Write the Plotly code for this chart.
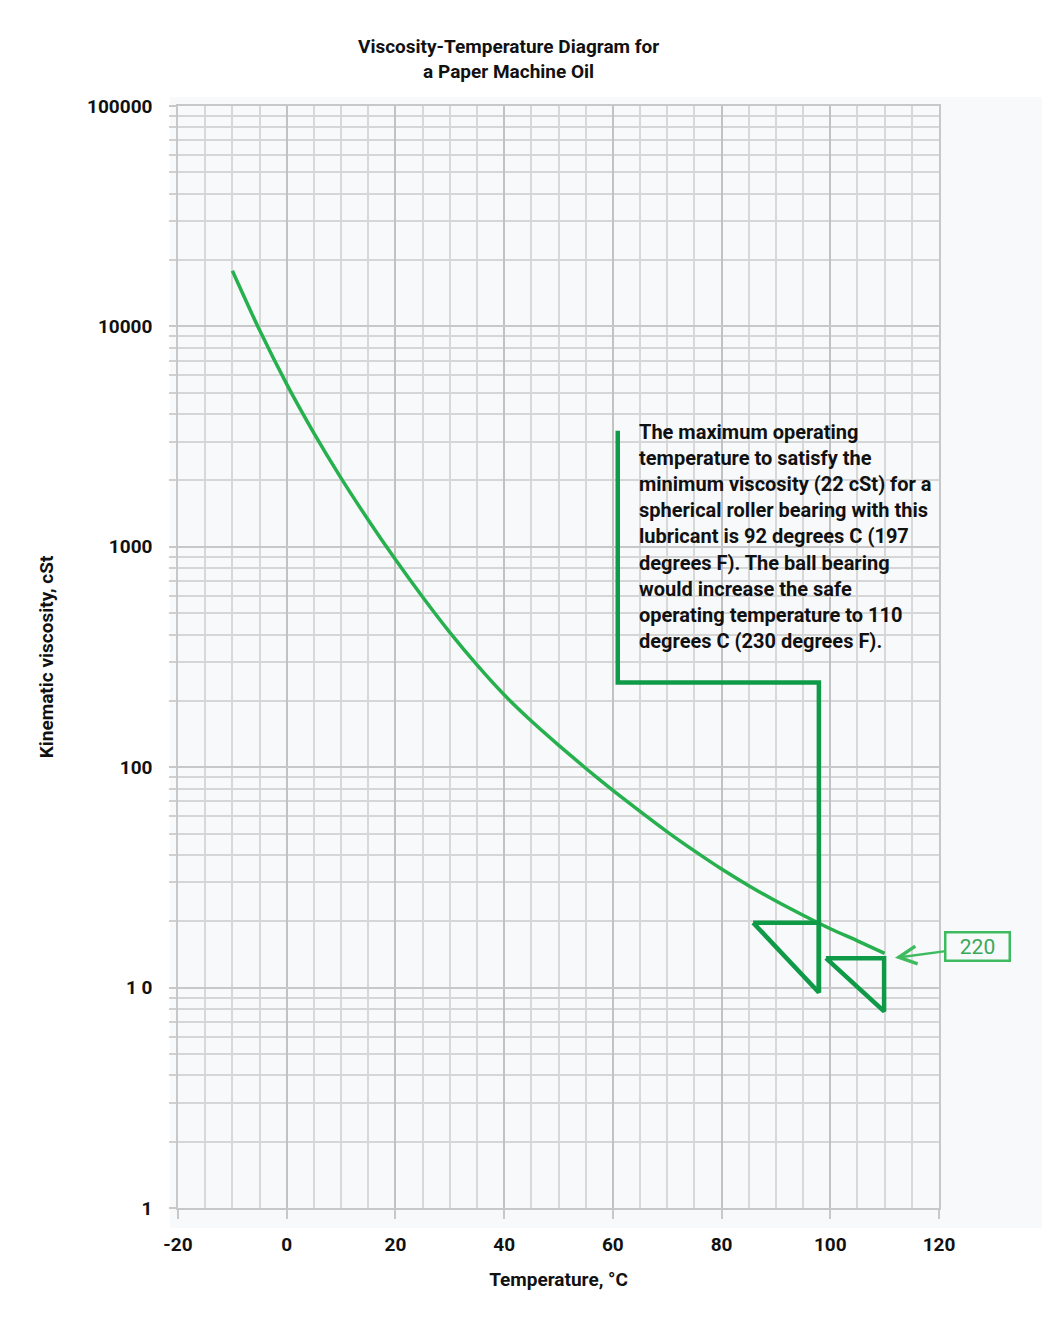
#!/usr/bin/env python3
"""Viscosity-temperature diagram for a paper machine oil (log viscosity vs temperature)."""

import plotly.graph_objects as go

# Oil curve
temps_c = [-10, -5, 0, 5, 10, 15, 20, 25, 30, 35, 40, 45, 50, 55, 60, 65, 70, 75,
           80, 85, 90, 95, 100, 105, 110]
visc_cst = [17900, 9620, 5470, 3280, 2050, 1324, 875, 592, 409, 291, 213, 162, 126, 98.9,
            78.5, 63.0, 50.9, 41.7, 34.5, 29.0, 24.7, 21.3, 18.5, 16.3, 14.3]

# Bracket from the note down to the 98 C crossing
bracket_x = [60.9, 60.9, 97.9, 97.9]
bracket_y = [3365, 242, 242, 9.5]

# Triangle markers
tri1_x = [85.8, 97.9, 97.9, 85.8]
tri1_y = [19.7, 19.7, 9.5, 19.7]
tri2_x = [99.2, 109.9, 109.9, 99.2]
tri2_y = [13.6, 13.6, 7.8, 13.6]

x_tickvals = [-20, 0, 20, 40, 60, 80, 100, 120]
x_ticktext = ['-20', '0', '20', '40', '60', '80', '100', '120']
y_tickvals = [1, 10, 100, 1000, 10000, 100000]
y_ticktext = ['1', '1 0', '100', '1000', '10000', '100000']

note_lines = [
    'The maximum operating',
    'temperature to satisfy the',
    'minimum viscosity (22 cSt) for a',
    'spherical roller bearing with this',
    'lubricant is 92 degrees C (197',
    'degrees F). The ball bearing',
    'would increase the safe',
    'operating temperature to 110',
    'degrees C (230 degrees F).',
]

FONT = 'Roboto, Liberation Sans, sans-serif'
OFF = 8  # page body margin
W, H = 1050 - OFF, 1322 - OFF
L, R, T, B = 178 - OFF, 111, 106 - OFF, 114
CURVE_GREEN = '#27b04e'
DARK_GREEN = '#0f9a48'


def px(x, y):
    """Page pixel position -> paper coordinates."""
    x, y = x - OFF, y - OFF
    return (x - L) / (W - L - R), (H - B - y) / (H - T - B)


fig = go.Figure()

fig.add_trace(go.Scatter(
    x=temps_c, y=visc_cst, mode='lines',
    line=dict(color=CURVE_GREEN, width=3.5, shape='spline', smoothing=0.6),
    hoverinfo='x+y'
))

for xs, ys in [(bracket_x, bracket_y), (tri1_x, tri1_y), (tri2_x, tri2_y)]:
    fig.add_trace(go.Scatter(
        x=xs, y=ys, mode='lines',
        line=dict(color=DARK_GREEN, width=4.5),
        hoverinfo='skip'
    ))

# light panel behind the plot
x0, y0 = px(170, 1228)
x1, y1 = px(1048, 97)
fig.add_shape(type='rect', xref='paper', yref='paper', x0=x0, y0=y0, x1=x1, y1=y1,
              fillcolor='#f8f9fb', line_width=0, layer='below')

annotations = []

# title
tx, ty = px(508, 59)
annotations.append(dict(
    text='Viscosity-Temperature Diagram for<br>a Paper Machine Oil',
    xref='paper', yref='paper', x=tx, y=ty, xanchor='center', yanchor='middle',
    showarrow=False, font=dict(family=FONT, size=19, color='#111', weight='bold')
))

# note text, one line per annotation to keep the tight leading
for i, line in enumerate(note_lines):
    nx, ny = px(637, 432 + 26.1 * i)
    annotations.append(dict(
        text=line, xref='paper', yref='paper', x=nx, y=ny,
        xanchor='left', yanchor='middle', showarrow=False,
        font=dict(family=FONT, size=20, color='#111', weight='bold')
    ))

# "220" label with arrow to the end of the curve
annotations.append(dict(
    text='220', x=temps_c[-1] + 1.9, y=1.135, xref='x', yref='y',
    ax=83, ay=-11, showarrow=True, arrowhead=5, arrowsize=1.4, arrowwidth=2.5,
    arrowcolor='#3dbb5e', bordercolor='#3dbb5e', borderwidth=2.5, borderpad=2,
    width=58, height=22, bgcolor='#f8f9fb',
    font=dict(family=FONT, size=21, color='#3aa85a')
))

fig.update_layout(
    width=W, height=H,
    margin=dict(l=L, r=R, t=T, b=B),
    paper_bgcolor='white',
    plot_bgcolor='#f8f9fb',
    showlegend=False,
    annotations=annotations,
    font=dict(family=FONT, color='#111'),
)

fig.update_xaxes(
    range=[-20, 120], tickvals=x_tickvals, ticktext=x_ticktext,
    showgrid=True, gridcolor='#c2c2c2', gridwidth=1.8,
    minor=dict(dtick=5, tick0=0, showgrid=True, gridcolor='#d8d8d8', gridwidth=1.5),
    ticks='outside', ticklen=9, tickcolor='#c8c8c8', tickwidth=1.5,
    showline=True, linecolor='#c8c8c8', linewidth=1.5, mirror=True,
    zeroline=False, ticklabelstandoff=9,
    tickfont=dict(family=FONT, size=19, color='#111', weight='bold'),
    title=dict(text='Temperature, °C', standoff=18,
               font=dict(family=FONT, size=19, color='#111', weight='bold')),
)

minor_vals = [m * 10 ** k for k in range(5) for m in range(2, 10)]
fig.update_yaxes(
    type='log', range=[0, 5],
    tickvals=y_tickvals, ticktext=y_ticktext,
    showgrid=True, gridcolor='#c8c8c8', gridwidth=1.8,
    minor=dict(tickvals=minor_vals, showgrid=True, gridcolor='#d6d6d6', gridwidth=1.5,
               ticks='outside', ticklen=7, tickcolor='#d0d0d0'),
    ticks='outside', ticklen=7, tickcolor='#c8c8c8', tickwidth=1.5,
    showline=True, linecolor='#c8c8c8', linewidth=1.5, mirror=True,
    zeroline=False, ticklabelstandoff=13,
    tickfont=dict(family=FONT, size=19, color='#111', weight='bold'),
    title=dict(text='Kinematic viscosity, cSt', standoff=28,
               font=dict(family=FONT, size=19, color='#111', weight='bold')),
)

fig.write_html('out.html')
